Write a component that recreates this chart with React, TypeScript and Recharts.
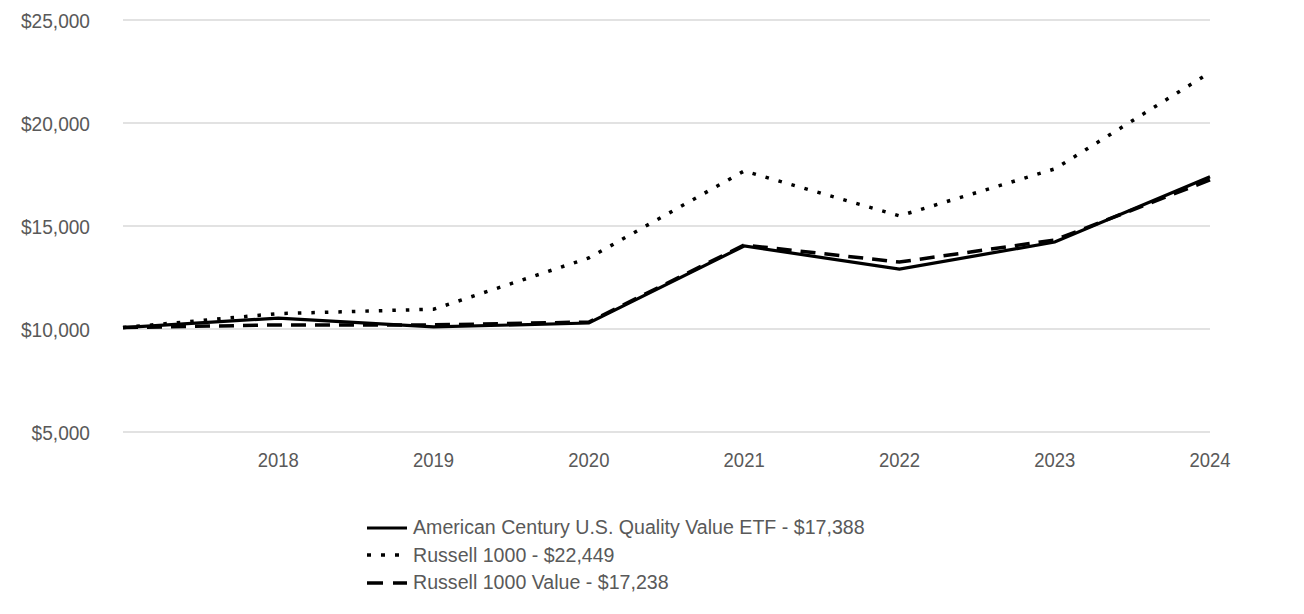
import React from 'react';
import { LineChart, Line, XAxis, YAxis, CartesianGrid, Legend } from 'recharts';

const years = ['', '2018', '2019', '2020', '2021', '2022', '2023', '2024'];
const fundValues = [10070, 10530, 10100, 10290, 14030, 12910, 14220, 17388];
const russell1000Values = [10070, 10750, 10960, 13450, 17670, 15490, 17770, 22449];
const russellValueValues = [10070, 10200, 10200, 10340, 14080, 13250, 14320, 17238];
const yTicks = [5000, 10000, 15000, 20000, 25000];

const seriesDefs = [
  { key: 'fund', name: 'American Century U.S. Quality Value ETF - $17,388', dash: undefined as string | undefined, legendDash: undefined as string | undefined, width: 3.2 },
  { key: 'r1000', name: 'Russell 1000 - $22,449', dash: '3.5 10', legendDash: '4 10', width: 3.5 },
  { key: 'r1000v', name: 'Russell 1000 Value - $17,238', dash: '15 9', legendDash: '16 10', width: 3.5 },
];

const data = years.map((year, i) => ({
  year,
  fund: fundValues[i],
  r1000: russell1000Values[i],
  r1000v: russellValueValues[i],
}));

const FONT = '"Liberation Sans", Arial, sans-serif';
const TEXT = '#595959';

const YTick = (props: any) => {
  const { x, y, payload } = props;
  return (
    <g transform={`translate(${x},${y}) scale(0.91,1)`}>
      <text x={0} y={0} dy="0.36em" textAnchor="end" fill={TEXT} fontSize={21} fontFamily={FONT}>
        {`$${Number(payload.value).toLocaleString('en-US')}`}
      </text>
    </g>
  );
};

const XTick = (props: any) => {
  const { x, y, payload } = props;
  return (
    <g transform={`translate(${x},${y}) scale(0.88,1)`}>
      <text x={0} y={0} dy="0.71em" textAnchor="middle" fill={TEXT} fontSize={21} fontFamily={FONT}>
        {payload.value}
      </text>
    </g>
  );
};

const LegendContent = () => (
  <div style={{ fontFamily: FONT, fontSize: 19.6, color: TEXT }}>
    {seriesDefs.map((s) => (
      <div key={s.key} style={{ display: 'flex', alignItems: 'center', height: 27.5 }}>
        <svg width={48} height={10} style={{ display: 'block' }}>
          <line x1={2} y1={5} x2={42} y2={5} stroke="#000" strokeWidth={s.width} strokeDasharray={s.legendDash} />
        </svg>
        <span style={{ whiteSpace: 'nowrap' }}>{s.name}</span>
      </div>
    ))}
  </div>
);

export default function App() {
  return (
    <div style={{ position: 'absolute', left: 0, top: 0, width: 1304, height: 614, background: '#fff' }}>
      <LineChart width={1304} height={614} data={data} margin={{ top: 20, right: 94, left: 0, bottom: 152 }}>
        <CartesianGrid horizontal vertical={false} stroke="#d9d9d9" strokeWidth={1.5} />
        <XAxis
          dataKey="year"
          axisLine={false}
          tickLine={false}
          interval={0}
          height={30}
          tickSize={0}
          tickMargin={20}
          tick={<XTick />}
        />
        <YAxis
          domain={[5000, 25000]}
          ticks={yTicks}
          width={123}
          axisLine={false}
          tickLine={false}
          tickSize={0}
          tickMargin={33}
          tick={<YTick />}
        />
        {seriesDefs.map((s) => (
          <Line
            key={s.key}
            type="linear"
            dataKey={s.key}
            name={s.name}
            stroke="#000"
            strokeWidth={s.width}
            strokeDasharray={s.dash}
            dot={false}
            activeDot={false}
            isAnimationActive={false}
          />
        ))}
        <Legend
          layout="vertical"
          align="center"
          verticalAlign="middle"
          content={LegendContent}
          wrapperStyle={{ position: 'absolute', left: 365, top: 514, width: 'auto', height: 'auto' }}
        />
      </LineChart>
    </div>
  );
}
